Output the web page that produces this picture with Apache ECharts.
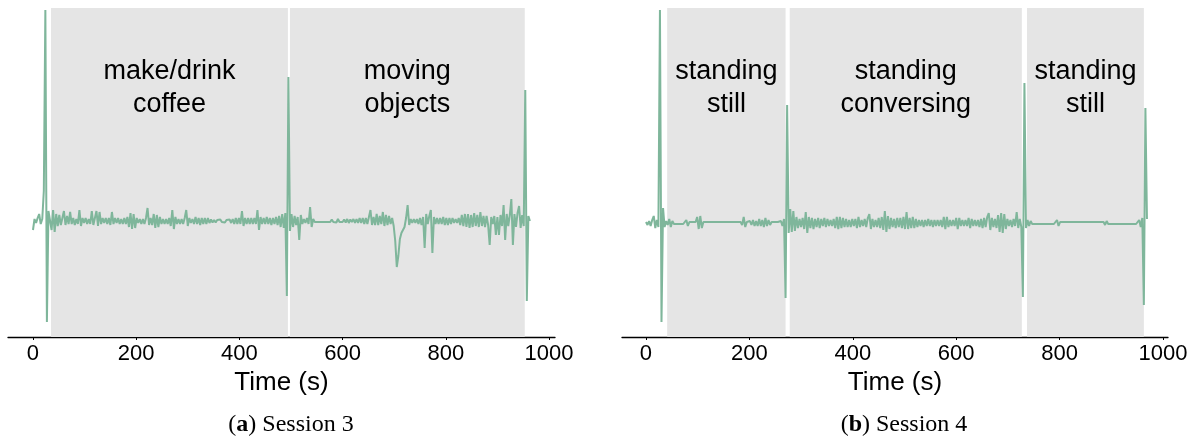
<!DOCTYPE html>
<html>
<head>
<meta charset="utf-8">
<script src="https://cdn.jsdelivr.net/npm/echarts@6/dist/echarts.min.js"></script>
<style>
  html, body { margin: 0; padding: 0; background: #fff; }
  #chart { width: 1195px; height: 441px; }
</style>
</head>
<body>
<div id="chart"></div>
<script>
// sample step of both signals, seconds
const STEP = 3

// Session 3 signal, one row = 30 s
const session3Values = [
  -0.9, 0.2, -0.2, 0.3, 0.7, -0.3, 0.2, 3, 21.1, -10.1,
  1, 0.8, -0.9, 1.1, -1.1, 0.7, -0.5, 0.6, -0.4, 0.3,
  1.0, -0.4, 0.5, -0.3, 0.9, -0.3, 0.3, -0.4, 0.2, -0.3,
  1.1, -0.5, 0.3, -0.2, 0.3, -0.3, 0.2, -0.3, 1.0, -0.4,
  0.3, 1.0, -0.5, 0.9, -0.3, 0.3, -0.2, 0.3, -0.3, 0.3,
  -0.4, 0.9, -0.3, 0.3, -0.2, 0.3, -0.3, 0.2, -0.3, 0.3,
  -0.3, 0.4, -0.6, 0.8, -0.8, 0.7, -0.7, 0.3, -0.2, 0.2,
  -0.3, 0.2, -0.3, 0.3, 1.3, -0.4, 0.3, -0.4, 0.7, -0.7,
  0.6, -0.6, 0.4, -0.3, 0.2, -0.3, 0.2, -0.3, 0.3, -0.5,
  1.1, -0.8, 0.4, -0.3, 0.2, -0.3, 0.2, -0.3, 0.3, 1.1,
  -0.5, 0.3, -0.2, 0.2, -0.3, 0.4, -0.3, 0.3, -0.4, 0.3,
  -0.3, 0.3, -0.3, 0.3, -0.2, 0.15, -0.15, 0.1, -0.15, 0.1,
  -0.1, 0.15, -0.1, 0.1, -0.15, 0.1, -0.1, 0.15, -0.2, 0.2,
  -0.3, 0.3, -0.3, 0.3, -0.3, 1.0, -0.5, 0.3, -0.3, 0.3,
  -0.3, 0.3, -0.3, 0.3, -0.3, 1.1, -0.9, 0.4, -0.3, 0.3,
  -0.3, 0.4, -0.3, 0.3, -0.4, 0.3, -0.3, 0.4, -0.4, 0.5,
  -0.6, 0.7, -0.7, 0.8, -7.5, 14.4, -1.0, 0.7, -0.6, 0.5,
  -0.4, 0.4, -1.9, 0.6, -0.3, 0.2, -0.2, 0.3, -0.3, 1.4,
  -0.6, 0.2, -0.1, 0.1, -0.1, 0.1, -0.1, 0.1, -0.1, 0.1,
  -0.1, 0.1, -0.1, 0.15, -0.1, 0.1, -0.15, 0.2, -0.1, 0.1,
  -0.1, 0.15, -0.15, 0.2, -0.2, 0.15, -0.1, 0.2, -0.2, 0.2,
  -0.2, 0.3, -0.2, 0.3, -0.3, 0.3, -0.3, 0.4, 1.1, -0.4,
  0.4, -0.4, 0.7, -0.4, 0.5, -0.3, 0.9, -0.5, 0.6, -0.4,
  0.5, -0.3, 0.3, -0.5, -2.0, -4.6, -3.5, -1.8, -1.2, -1.0,
  -0.6, 0.3, 1.6, -0.4, 0.2, -0.2, 0.2, -0.2, 0.2, -0.3,
  0.3, -0.4, 0.4, -2.7, 0.7, -0.3, 0.5, 1.1, -3.2, 0.4,
  -0.3, 0.3, -0.3, 0.3, -0.3, 0.4, -0.4, 0.3, -0.4, 0.3,
  -0.3, 0.3, -0.2, 0.2, -0.2, 0.3, -0.4, 0.6, -0.5, 0.7,
  -0.6, 0.7, -0.7, 0.6, -0.6, 0.8, -0.5, 0.6, -0.6, 0.9,
  -0.5, 0.5, -0.6, 0.5, -0.4, -2.4, 0.4, -0.3, 0.5, -1.4,
  0.4, -1.4, 0.6, -0.5, 1.6, -1.9, 0.7, -0.5, 0.6, 2.2,
  -2.4, 0.7, -0.6, 0.8, 1.5, -0.7, 0.6, -0.5, 13.1, -8.0,
  0.5, 0.0
]

// Session 4 signal, one row = 30 s
const session4Values = [
  0.1, -0.2, 0.2, -0.3, 0.3, 0.7, -0.5, 0.3, -0.4, 21.3,
  -9.9, 1.5, -0.4, 0.2, -0.2, 0.4, -0.4, 0.2, -0.1, 0.1,
  -0.1, 0.1, -0.1, 0.1, -0.1, 0.1, 0.3, -0.3, 0.1, -0.1,
  0.1, -0.1, 0.1, 0.6, -0.6, 0.7, -0.5, 0.1, -0.1, 0.1,
  -0.1, 0.1, -0.1, 0.1, -0.1, 0.1, -0.1, 0.1, -0.1, 0.1,
  -0.1, 0.1, -0.1, 0.1, -0.1, 0.1, -0.1, 0.1, -0.1, 0.1,
  -0.1, 0.1, -0.2, 0.6, -0.4, 0.1, -0.1, 0.2, -0.2, 0.3,
  -0.3, 0.2, -0.3, 0.4, -0.3, 0.3, -0.4, 0.5, -0.3, 0.3,
  -0.2, 0.1, -0.1, 0.1, -0.1, 0.1, -0.1, 0.2, -0.3, 0.4,
  -7.5, 11.8, -1.0, 1.4, -0.9, 1.2, -0.8, 0.6, -0.5, 0.4,
  -0.4, 0.5, -0.6, 1.1, -1.0, 0.6, -0.5, 0.5, -0.6, 0.4,
  -0.4, 0.5, -0.5, 0.4, -0.3, 0.5, -0.4, 0.4, -0.3, 0.3,
  -0.3, 0.4, -0.5, 0.6, -0.6, 0.6, -0.5, 0.5, -0.4, 0.4,
  -0.4, 0.3, -0.4, 0.4, -0.3, 0.4, -0.5, 0.6, -0.4, 0.3,
  -0.3, 0.4, -0.4, 0.5, 0.9, -0.6, 0.4, -0.4, 0.3, -0.4,
  0.5, -0.5, 0.6, -0.7, 1.2, -0.9, 0.7, -0.6, 0.5, -0.4,
  0.4, -0.5, 0.5, -0.4, 0.5, -0.5, 0.6, -0.6, 1.1, -0.6,
  0.5, -0.5, 0.6, -0.5, 0.4, -0.4, 0.3, -0.3, 0.3, -0.4,
  0.3, -0.3, 0.4, -0.3, 0.3, -0.4, 0.3, -0.3, 0.3, -0.3,
  0.3, -0.4, 0.6, -0.6, 0.6, -0.4, 0.3, -0.3, 0.3, -0.3,
  0.5, -0.6, 0.5, -0.3, 0.3, -0.3, 0.3, -0.3, 0.5, -0.5,
  0.4, -0.3, 0.3, -0.3, 0.3, -0.4, 0.4, -0.5, 0.5, -0.4,
  0.6, 1.0, -0.7, 0.5, -0.4, 0.4, -0.5, 0.8, -0.9, 1.0,
  -1.0, 0.9, -0.6, 0.4, -0.3, 0.3, -0.4, 0.4, -0.3, 1.1,
  -0.5, 0.4, -0.4, -7.4, 14.0, -0.5, 0.3, -0.3, 0.2, -0.1,
  0.1, -0.1, 0.1, -0.1, 0.1, -0.1, 0.1, -0.1, 0.1, -0.1,
  0.1, -0.1, 0.1, -0.1, 0.1, 0.3, -0.3, 0.1, -0.1, 0.1,
  -0.1, 0.1, -0.1, 0.1, -0.1, 0.1, -0.1, 0.1, -0.1, 0.1,
  -0.1, 0.1, -0.1, 0.1, -0.1, 0.1, -0.1, 0.1, -0.1, 0.1,
  -0.1, 0.1, -0.1, 0.1, -0.1, 0.1, -0.2, 0.2, -0.1, 0.1,
  -0.1, 0.1, -0.1, 0.1, -0.1, 0.1, -0.1, 0.1, -0.1, 0.1,
  -0.1, 0.1, -0.1, 0.1, -0.1, 0.1, -0.1, 0.1, 0.3, -0.4,
  0.5, -8.2, 11.5, 0.4
]

// activity segments (s) and their labels
const session3Regions = [[35, 494], [498, 953]]
const session3Labels = ['make/drink\ncoffee', 'moving\nobjects']
const session4Regions = [[41, 270], [278, 727], [737, 963]]
const session4Labels = ['standing\nstill', 'standing\nconversing', 'standing\nstill']

const xTicks = [0, 200, 400, 600, 800, 1000]
const captions = ['({b|a}) Session 3', '({b|b}) Session 4']

const SANS = 'Liberation Sans, Arial, sans-serif'
const SERIF = 'Liberation Serif, Times New Roman, serif'
const lineColor = '#7fb69b'

function toPoints (values) {
  return values.map((v, i) => [i * STEP, v])
}

function makeXAxis (gridIndex, min, max) {
  return {
    type: 'value',
    gridIndex,
    min,
    max,
    name: 'Time (s)',
    nameLocation: 'middle',
    nameGap: 31,
    nameTextStyle: { fontFamily: SANS, fontSize: 26, color: '#000' },
    axisLine: { onZero: false, lineStyle: { color: '#000', width: 1.3 } },
    axisTick: { show: true, length: 3, customValues: xTicks, lineStyle: { color: '#000', width: 1 } },
    axisLabel: {
      customValues: xTicks,
      formatter: v => String(v),
      margin: 6,
      fontFamily: SANS,
      fontSize: 22,
      color: '#000'
    },
    splitLine: { show: false }
  }
}

function makeYAxis (gridIndex, min, max) {
  return { type: 'value', gridIndex, min, max, show: false, splitLine: { show: false } }
}

function makeSeries (idx, values, regions, labels) {
  return {
    type: 'line',
    xAxisIndex: idx,
    yAxisIndex: idx,
    data: toPoints(values),
    showSymbol: false,
    symbol: 'none',
    lineStyle: { color: lineColor, width: 2 },
    markArea: {
      silent: true,
      itemStyle: { color: '#e5e5e5' },
      label: {
        position: 'insideTop',
        distance: 47,
        fontFamily: SANS,
        fontSize: 27,
        lineHeight: 33,
        color: '#000'
      },
      data: regions.map((r, i) => [{ xAxis: r[0], name: labels[i] }, { xAxis: r[1] }])
    }
  }
}

const chart = echarts.init(document.getElementById('chart'), null, { renderer: 'canvas' })

chart.setOption({
  animation: false,
  grid: [
    { left: 8, top: 8, width: 547, height: 329 },
    { left: 622, top: 8, width: 546, height: 329 }
  ],
  xAxis: [makeXAxis(0, -48.4, 1011.6), makeXAxis(1, -46.4, 1009.7)],
  yAxis: [makeYAxis(0, -11.6, 21.3), makeYAxis(1, -11.4, 21.5)],
  series: [
    makeSeries(0, session3Values, session3Regions, session3Labels),
    makeSeries(1, session4Values, session4Regions, session4Labels)
  ],
  graphic: [291, 904].map((x, i) => ({
    type: 'text',
    x,
    y: 425,
    style: {
      text: captions[i],
      align: 'center',
      verticalAlign: 'middle',
      fontFamily: SERIF,
      fontSize: 24,
      fill: '#000',
      rich: {
        b: { fontFamily: SERIF, fontSize: 24, fontWeight: 'bold', fill: '#000' }
      }
    }
  }))
})
</script>
</body>
</html>
